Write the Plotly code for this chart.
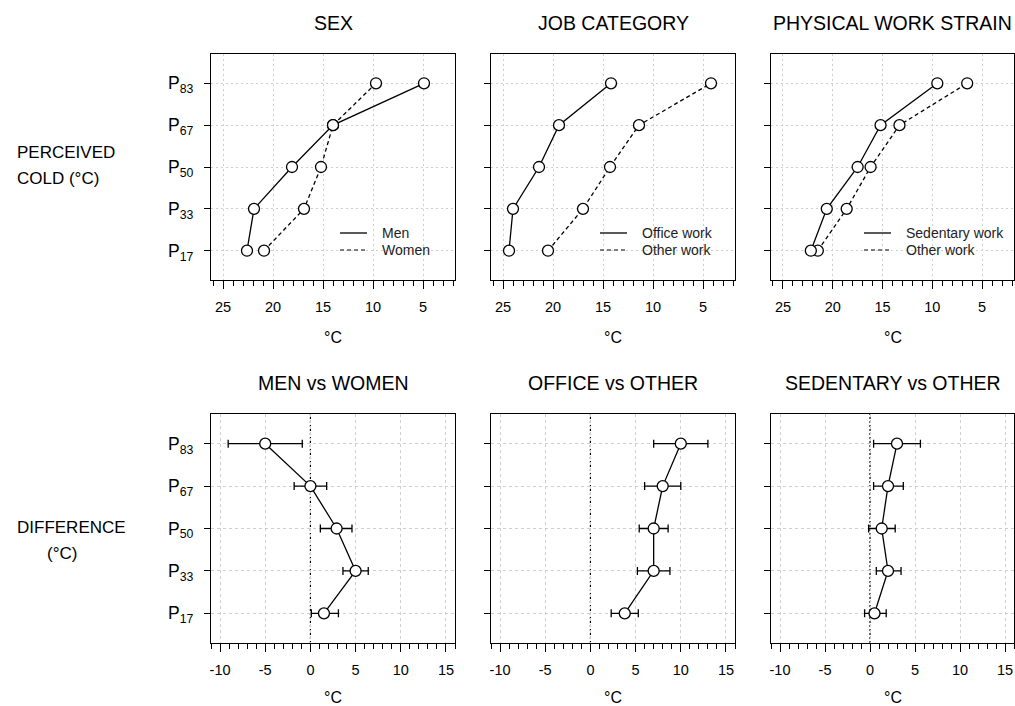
import plotly.graph_objects as go

W, H = 1015, 706
FONT = "Arial, Liberation Sans, Helvetica, sans-serif"

# ---------------- data ----------------
percentiles = ["P<sub>17</sub>", "P<sub>33</sub>", "P<sub>50</sub>", "P<sub>67</sub>", "P<sub>83</sub>"]

men = [22.6, 21.9, 18.1, 14.0, 4.9]
women = [20.9, 16.9, 15.2, 14.0, 9.7]
office = [24.4, 24.0, 21.4, 19.4, 14.2]
other_job = [20.5, 17.0, 14.3, 11.4, 4.2]
sedentary = [22.2, 20.6, 17.5, 15.2, 9.5]
other_strain = [21.5, 18.6, 16.2, 13.3, 6.5]

mw_diff = [1.5, 5.0, 2.9, 0.0, -5.0]
mw_low = [0.1, 3.6, 1.1, -1.8, -9.1]
mw_high = [3.1, 6.4, 4.6, 1.8, -0.9]

oo_diff = [3.8, 7.0, 7.0, 8.0, 10.0]
oo_low = [2.3, 5.2, 5.4, 6.0, 7.0]
oo_high = [5.3, 8.8, 8.6, 10.0, 13.0]

so_diff = [0.5, 2.0, 1.3, 2.0, 3.0]
so_low = [-0.6, 0.7, -0.15, 0.4, 0.4]
so_high = [1.8, 3.45, 2.8, 3.7, 5.6]

top_ticks = [25, 20, 15, 10, 5]
diff_ticks = [-10, -5, 0, 5, 10, 15]

top_titles = ["SEX", "JOB CATEGORY", "PHYSICAL WORK STRAIN"]
bottom_titles = ["MEN vs WOMEN", "OFFICE vs OTHER", "SEDENTARY vs OTHER"]
legend_names = [("Men", "Women"), ("Office work", "Other work"), ("Sedentary work", "Other work")]
unit_label = "°C"
ref_value = 0

# ---------------- layout geometry (pixels) ----------------
col_px = [(211, 455), (491, 735), (771, 1014)]
top_px = (54, 280)
bot_px = (414, 643)


def px_x(p):
    return p / W


def px_y(p):
    return 1 - p / H


fig = go.Figure()

top_pairs = [(men, women), (office, other_job), (sedentary, other_strain)]
diffs = [(mw_diff, mw_low, mw_high), (oo_diff, oo_low, oo_high), (so_diff, so_low, so_high)]

LW = 1.3
DASH = "4px,3px"
marker = dict(symbol="circle", size=11, color="white", line=dict(color="black", width=1.3))

for i in range(3):
    xa = "x%d" % (i + 1) if i > 0 else "x"
    ya = "y%d" % (i + 1) if i > 0 else "y"
    solid, dashed = top_pairs[i]
    fig.add_trace(go.Scatter(x=dashed, y=percentiles, mode="lines+markers", xaxis=xa, yaxis=ya,
                             line=dict(color="black", width=LW, dash=DASH), marker=marker,
                             name=legend_names[i][1], showlegend=False))
    fig.add_trace(go.Scatter(x=solid, y=percentiles, mode="lines+markers", xaxis=xa, yaxis=ya,
                             line=dict(color="black", width=LW), marker=marker,
                             name=legend_names[i][0], showlegend=False))

for i in range(3):
    n = i + 4
    xa, ya = "x%d" % n, "y%d" % n
    d, lo, hi = diffs[i]
    plus = [h - v for h, v in zip(hi, d)]
    minus = [v - l for v, l in zip(d, lo)]
    fig.add_trace(go.Scatter(x=d, y=percentiles, mode="lines+markers", xaxis=xa, yaxis=ya,
                             line=dict(color="black", width=LW), marker=marker, showlegend=False,
                             error_x=dict(type="data", array=plus, arrayminus=minus, symmetric=False,
                                          color="black", thickness=LW, width=4)))
    fig.add_shape(type="line", xref=xa, yref=ya + " domain", x0=ref_value, x1=ref_value, y0=0, y1=1,
                  line=dict(color="black", width=1.2, dash="2px,2px"), layer="below")

axis_common = dict(showline=True, linecolor="black", linewidth=1.3, mirror=True,
                   ticks="outside", tickcolor="black", tickwidth=1.2,
                   showgrid=True, gridcolor="#cfcfcf", gridwidth=1,
                   zeroline=False, automargin=False,
                   tickfont=dict(family=FONT, size=14.5, color="black"))

layout = dict(width=W, height=H, margin=dict(l=0, r=0, t=0, b=0), showlegend=False,
              paper_bgcolor="white", plot_bgcolor="white", font=dict(family=FONT, color="black"))

for k in range(6):
    n = k + 1
    col = k % 3
    row_px = top_px if k < 3 else bot_px
    xdom = [px_x(col_px[col][0]), px_x(col_px[col][1])]
    ydom = [px_y(row_px[1]), px_y(row_px[0])]
    xname = "xaxis" if n == 1 else "xaxis%d" % n
    yname = "yaxis" if n == 1 else "yaxis%d" % n
    yanchor = "y" if n == 1 else "y%d" % n
    xanchor = "x" if n == 1 else "x%d" % n
    if k < 3:
        xr = [26.2, 1.8]
        griddash = "2px,3px"
        tv = top_ticks
    else:
        xr = [-11, 16]
        griddash = "3px,3px"
        tv = diff_ticks
    layout[xname] = dict(axis_common, domain=xdom, anchor=yanchor, range=xr,
                         tickmode="array", tickvals=tv, ticktext=[str(v) for v in tv],
                         ticklen=8, griddash=griddash, ticklabelstandoff=5,
                         minor=dict(dtick=1, tick0=0, ticks="outside", ticklen=5, tickcolor="black",
                                    tickwidth=1.2, showgrid=False))
    layout[yname] = dict(axis_common, domain=ydom, anchor=xanchor, type="category",
                         categoryorder="array", categoryarray=percentiles,
                         range=[-0.7, 4.7], ticklen=6, griddash=griddash,
                         showticklabels=(col == 0), ticklabelstandoff=7,
                         tickfont=dict(family=FONT, size=17.5, color="black"))

# manual legends (key line + label) inside each top panel
shapes = []
annotations = []
leg_pos = [(340, 233), (600, 233), (864, 233)]
ROW_GAP = 17
for i, (lx, ly) in enumerate(leg_pos):
    for j, nm in enumerate(legend_names[i]):
        yy = ly + j * ROW_GAP
        shapes.append(dict(type="line", xref="paper", yref="paper", x0=px_x(lx), x1=px_x(lx + 27),
                           y0=px_y(yy), y1=px_y(yy),
                           line=dict(color="black" if j == 0 else "#555555", width=LW,
                                     dash=None if j == 0 else DASH)))
        annotations.append(dict(text=nm, x=px_x(lx + 40), y=px_y(yy), xref="paper", yref="paper",
                                showarrow=False, xanchor="left", yanchor="middle",
                                font=dict(family=FONT, size=14, color="#222222")))

for i in range(3):
    cx = (col_px[i][0] + col_px[i][1]) / 2
    annotations.append(dict(text=top_titles[i], x=px_x(cx), y=px_y(23), xref="paper", yref="paper",
                            showarrow=False, xanchor="center", yanchor="middle",
                            font=dict(family=FONT, size=19.5, color="black")))
    annotations.append(dict(text=bottom_titles[i], x=px_x(cx), y=px_y(383), xref="paper", yref="paper",
                            showarrow=False, xanchor="center", yanchor="middle",
                            font=dict(family=FONT, size=19.5, color="black")))
    annotations.append(dict(text=unit_label, x=px_x(cx), y=px_y(337), xref="paper", yref="paper",
                            showarrow=False, xanchor="center", yanchor="middle",
                            font=dict(family=FONT, size=16, color="black")))
    annotations.append(dict(text=unit_label, x=px_x(cx), y=px_y(697), xref="paper", yref="paper",
                            showarrow=False, xanchor="center", yanchor="middle",
                            font=dict(family=FONT, size=16, color="black")))

side_texts = [("PERCEIVED", 15, 152), ("COLD (°C)", 15, 178), ("DIFFERENCE", 15, 527), ("(°C)", 45, 553)]
for t, x, y in side_texts:
    annotations.append(dict(text=t, x=px_x(x), y=px_y(y), xref="paper", yref="paper", showarrow=False,
                            xanchor="left", yanchor="middle", font=dict(family=FONT, size=17, color="black")))

layout["annotations"] = annotations
layout["shapes"] = list(fig.layout.shapes) + shapes
fig.update_layout(**layout)

fig.write_html("out.html", config={"displayModeBar": False},
               post_script="document.body.style.margin='0';document.body.style.overflow='hidden';")
